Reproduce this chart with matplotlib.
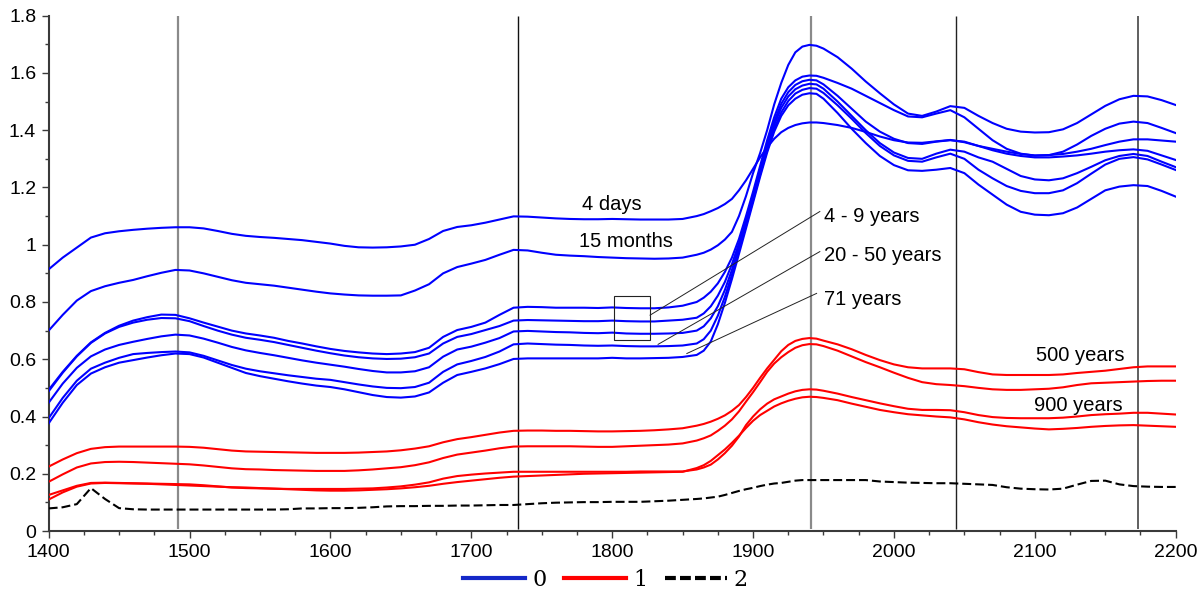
import matplotlib
matplotlib.use("Agg")
import matplotlib.pyplot as plt
from matplotlib.lines import Line2D
from matplotlib.patches import Rectangle
from matplotlib.ticker import MultipleLocator, FuncFormatter

plt.rcParams['font.family'] = ['Liberation Sans', 'DejaVu Sans']

# sample years: 10-year steps, 5-year steps across the steep rise
YEARS = list(range(1400, 1860, 10)) + list(range(1860, 1950, 5)) + list(range(1950, 2201, 10))

# group 0 (blue)
days_4 = [0.914, 0.955, 0.99, 1.025, 1.04, 1.047, 1.052, 1.056, 1.059, 1.061,
          1.061, 1.057, 1.048, 1.038, 1.031, 1.027, 1.024, 1.02, 1.016, 1.01,
          1.004, 0.996, 0.991, 0.99, 0.991, 0.994, 1.0, 1.02, 1.048, 1.062,
          1.068, 1.077, 1.088, 1.099, 1.098, 1.095, 1.092, 1.09, 1.089, 1.089,
          1.09, 1.089, 1.088, 1.088, 1.088, 1.09,
          1.10, 1.107, 1.117, 1.128, 1.142, 1.16, 1.19, 1.225, 1.265, 1.305, 1.34, 1.37,
          1.393, 1.408, 1.418, 1.424, 1.427, 1.427,
          1.425, 1.418, 1.408, 1.394, 1.378, 1.365, 1.357, 1.356, 1.361, 1.366,
          1.358, 1.345, 1.335, 1.325, 1.317, 1.312, 1.313, 1.317, 1.325, 1.335,
          1.348, 1.36, 1.368, 1.368, 1.364, 1.36]
months_15 = [0.70, 0.755, 0.805, 0.838, 0.855, 0.867, 0.877, 0.89, 0.902, 0.912,
             0.91, 0.9, 0.888, 0.876, 0.867, 0.862, 0.857, 0.85, 0.843, 0.836,
             0.83, 0.826, 0.823, 0.822, 0.822, 0.823, 0.84, 0.862, 0.9, 0.922,
             0.934, 0.947, 0.965, 0.982, 0.98, 0.972, 0.965, 0.962, 0.96, 0.957,
             0.955, 0.953, 0.952, 0.951, 0.952, 0.955,
             0.965, 0.972, 0.983, 0.998, 1.018, 1.045, 1.10, 1.17, 1.25, 1.32, 1.40, 1.49,
             1.565, 1.628, 1.672, 1.692, 1.698, 1.695,
             1.685, 1.655, 1.615, 1.57, 1.529, 1.49, 1.458, 1.45, 1.465, 1.484,
             1.478, 1.45, 1.425, 1.405, 1.395, 1.392, 1.393, 1.403, 1.425, 1.455,
             1.485, 1.508, 1.52, 1.518, 1.505, 1.488]
blue_3 = [0.493, 0.556, 0.612, 0.659, 0.692, 0.717, 0.735, 0.747, 0.756, 0.755,
          0.743, 0.728, 0.714, 0.70, 0.69, 0.683, 0.675, 0.664, 0.655, 0.645,
          0.636, 0.629, 0.624, 0.62, 0.618, 0.62, 0.625, 0.64, 0.678, 0.702,
          0.713, 0.728, 0.755, 0.78, 0.783, 0.782, 0.78, 0.78, 0.78, 0.779,
          0.781, 0.779, 0.778, 0.778, 0.781, 0.787,
          0.80, 0.815, 0.836, 0.865, 0.905, 0.955, 1.02, 1.10, 1.185, 1.275, 1.365, 1.445,
          1.51, 1.55, 1.574, 1.587, 1.591, 1.59,
          1.583, 1.565, 1.545, 1.52, 1.495, 1.47, 1.448, 1.445, 1.458, 1.47,
          1.445, 1.405, 1.365, 1.335, 1.318, 1.311, 1.313, 1.325, 1.35, 1.38,
          1.405, 1.423, 1.43, 1.425, 1.408, 1.39]
blue_4 = [0.488, 0.553, 0.61, 0.657, 0.69, 0.713, 0.728, 0.738, 0.744, 0.743,
          0.733, 0.716, 0.70, 0.686, 0.675, 0.668, 0.66, 0.65, 0.64, 0.63,
          0.621, 0.613, 0.607, 0.603, 0.601, 0.602, 0.607, 0.62, 0.655, 0.678,
          0.688, 0.702, 0.716, 0.735, 0.737, 0.736, 0.735, 0.734, 0.733, 0.733,
          0.735, 0.733, 0.732, 0.732, 0.735, 0.738,
          0.745, 0.76, 0.785, 0.822, 0.87, 0.932, 1.005, 1.088, 1.175, 1.265, 1.352, 1.43,
          1.492, 1.533, 1.558, 1.571, 1.576, 1.574,
          1.56, 1.52, 1.475, 1.43, 1.395, 1.37, 1.355, 1.352, 1.36, 1.365,
          1.36, 1.345, 1.33, 1.318, 1.31, 1.305, 1.305, 1.308, 1.312, 1.318,
          1.325, 1.33, 1.333, 1.328, 1.312, 1.296]
blue_5 = [0.448, 0.515, 0.57, 0.61, 0.634, 0.65, 0.661, 0.671, 0.68, 0.686,
          0.683, 0.672, 0.658, 0.643, 0.631, 0.622, 0.614, 0.605, 0.596, 0.588,
          0.581, 0.574, 0.566, 0.559, 0.554, 0.554, 0.558, 0.572, 0.609, 0.634,
          0.644, 0.658, 0.674, 0.697, 0.699, 0.697, 0.695, 0.694, 0.692, 0.691,
          0.693, 0.69, 0.689, 0.689, 0.69, 0.692,
          0.70, 0.715, 0.743, 0.785, 0.842, 0.912, 0.993, 1.078, 1.165, 1.255, 1.342, 1.418,
          1.478, 1.518, 1.543, 1.556, 1.562, 1.56,
          1.545, 1.50, 1.45, 1.40, 1.355, 1.322, 1.303, 1.30, 1.318, 1.332,
          1.325, 1.305, 1.29, 1.265, 1.24, 1.228, 1.225, 1.232, 1.25, 1.272,
          1.295, 1.31, 1.317, 1.31, 1.29, 1.271]
blue_6 = [0.394, 0.465, 0.525, 0.567, 0.588, 0.605, 0.618, 0.622, 0.625, 0.627,
          0.624, 0.612, 0.596, 0.58, 0.567, 0.558, 0.551, 0.544, 0.538, 0.532,
          0.528, 0.52, 0.512, 0.505, 0.50, 0.499, 0.503, 0.518, 0.556, 0.582,
          0.594, 0.608, 0.627, 0.652, 0.655, 0.653, 0.651, 0.65, 0.648, 0.647,
          0.648, 0.646, 0.645, 0.645, 0.646, 0.648,
          0.655, 0.67, 0.70, 0.752, 0.818, 0.895, 0.98, 1.067, 1.155, 1.245, 1.33, 1.405,
          1.462, 1.502, 1.528, 1.541, 1.547, 1.545,
          1.53, 1.487, 1.44, 1.39, 1.345, 1.312, 1.293, 1.29, 1.305, 1.318,
          1.30, 1.262, 1.232, 1.205, 1.188, 1.18, 1.18, 1.19, 1.215, 1.248,
          1.28, 1.30, 1.306, 1.298, 1.28, 1.261]
blue_7 = [0.376, 0.448, 0.51, 0.55, 0.572, 0.588, 0.597, 0.606, 0.614, 0.62,
          0.618, 0.606, 0.588, 0.57, 0.552, 0.541, 0.532, 0.523, 0.515, 0.508,
          0.503, 0.495, 0.485, 0.475, 0.468, 0.466, 0.47, 0.484, 0.518, 0.545,
          0.556, 0.568, 0.583, 0.601, 0.603, 0.603, 0.603, 0.603, 0.603, 0.603,
          0.605, 0.603, 0.603, 0.604, 0.605, 0.608,
          0.615, 0.63, 0.662, 0.722, 0.797, 0.88, 0.968, 1.057, 1.147, 1.237, 1.322, 1.395,
          1.45, 1.487, 1.51, 1.524, 1.529, 1.527,
          1.51, 1.46, 1.405, 1.355, 1.31, 1.278, 1.26, 1.258, 1.262, 1.268,
          1.25, 1.21, 1.175, 1.14, 1.115, 1.105, 1.103, 1.11, 1.13, 1.16,
          1.19, 1.203, 1.208, 1.205, 1.188, 1.168]

# group 1 (red)
years_500 = [0.225, 0.25, 0.272, 0.287, 0.293, 0.295, 0.295, 0.295, 0.295, 0.295,
             0.294, 0.291, 0.286, 0.281, 0.278, 0.277, 0.276, 0.275, 0.274, 0.273,
             0.273, 0.273, 0.274, 0.276, 0.278, 0.282, 0.288, 0.296, 0.31, 0.321,
             0.328, 0.336, 0.344, 0.35, 0.351, 0.351, 0.35, 0.35, 0.349, 0.348,
             0.348, 0.349, 0.35, 0.352, 0.355, 0.359,
             0.368, 0.374, 0.382, 0.392, 0.404, 0.42, 0.44, 0.468, 0.50, 0.535, 0.568, 0.598,
             0.628, 0.65, 0.664, 0.671, 0.674, 0.672,
             0.665, 0.652, 0.635, 0.615, 0.597, 0.582, 0.572, 0.568, 0.568, 0.568,
             0.565, 0.555, 0.547, 0.545, 0.545, 0.545, 0.545, 0.547, 0.552, 0.556,
             0.56, 0.566, 0.572, 0.575, 0.575, 0.575]
red_2 = [0.172, 0.198, 0.222, 0.236, 0.241, 0.242, 0.241, 0.239, 0.237, 0.235,
         0.233, 0.229, 0.224, 0.219, 0.216, 0.215, 0.213, 0.212, 0.211, 0.21,
         0.21, 0.21, 0.212, 0.215, 0.219, 0.223, 0.23, 0.24, 0.255, 0.267,
         0.274, 0.281, 0.289, 0.295, 0.296, 0.296, 0.296, 0.296, 0.295, 0.294,
         0.294, 0.296, 0.298, 0.30, 0.302, 0.306,
         0.316, 0.324, 0.334, 0.35, 0.368, 0.39, 0.418, 0.452, 0.485, 0.52, 0.556, 0.585,
         0.607, 0.625, 0.64, 0.649, 0.653, 0.652,
         0.646, 0.63, 0.61, 0.59, 0.572, 0.553, 0.535, 0.52, 0.513, 0.51,
         0.506, 0.50, 0.495, 0.493, 0.493, 0.495, 0.497, 0.502, 0.51, 0.516,
         0.518, 0.52, 0.522, 0.524, 0.525, 0.525]
years_900 = [0.126, 0.142, 0.158, 0.168, 0.169, 0.168, 0.167, 0.166, 0.165, 0.164,
             0.163, 0.16, 0.156, 0.152, 0.15, 0.149, 0.148, 0.147, 0.147, 0.147,
             0.147, 0.147, 0.148, 0.149, 0.152, 0.156, 0.162, 0.17, 0.183, 0.192,
             0.197, 0.201, 0.204, 0.207, 0.207, 0.207, 0.207, 0.207, 0.207, 0.207,
             0.207, 0.207, 0.208, 0.208, 0.208, 0.208,
             0.215, 0.222, 0.232, 0.25, 0.272, 0.298, 0.33, 0.37, 0.40, 0.425, 0.445, 0.46,
             0.47, 0.48, 0.488, 0.493, 0.495, 0.494,
             0.49, 0.48, 0.468, 0.457, 0.446, 0.436, 0.427, 0.423, 0.423, 0.422,
             0.415, 0.405, 0.398, 0.395, 0.394, 0.394, 0.394, 0.396, 0.40, 0.405,
             0.408, 0.41, 0.413, 0.413, 0.41, 0.407]
red_4 = [0.11, 0.135, 0.155, 0.166, 0.168, 0.167, 0.166, 0.165, 0.163, 0.161,
         0.159, 0.157, 0.155, 0.153, 0.152, 0.15, 0.148, 0.146, 0.144, 0.142,
         0.141, 0.141, 0.142, 0.144, 0.146, 0.149, 0.153, 0.158, 0.165, 0.171,
         0.176, 0.181, 0.186, 0.19, 0.192, 0.194, 0.196, 0.198, 0.20, 0.201,
         0.202, 0.203, 0.204, 0.205, 0.206, 0.207,
         0.22, 0.23, 0.245, 0.265, 0.285, 0.308, 0.333, 0.36, 0.385, 0.405, 0.42, 0.435,
         0.446, 0.455, 0.462, 0.467, 0.469, 0.468,
         0.465, 0.457, 0.445, 0.434, 0.423, 0.415, 0.408, 0.404, 0.40, 0.397,
         0.39, 0.38, 0.372, 0.366, 0.362, 0.358, 0.355, 0.357, 0.36, 0.364,
         0.367, 0.369, 0.37, 0.368, 0.366, 0.364]

# group 2 (black dashed)
group_2 = [0.079, 0.083, 0.094, 0.15, 0.112, 0.08, 0.076, 0.075, 0.075, 0.075,
           0.075, 0.075, 0.075, 0.075, 0.075, 0.075, 0.075, 0.076, 0.079, 0.079,
           0.08, 0.08, 0.081, 0.083, 0.086, 0.087, 0.087, 0.088, 0.088, 0.089,
           0.089, 0.09, 0.091, 0.091, 0.094, 0.097, 0.099, 0.10, 0.101, 0.101,
           0.102, 0.102, 0.102, 0.104, 0.106, 0.109,
           0.112, 0.114, 0.117, 0.12, 0.126, 0.133, 0.14, 0.146, 0.151, 0.157, 0.162, 0.166,
           0.168, 0.172, 0.176, 0.178, 0.178, 0.178,
           0.178, 0.178, 0.178, 0.178, 0.173, 0.171, 0.169, 0.168, 0.167, 0.167,
           0.165, 0.163, 0.161, 0.153, 0.148, 0.146, 0.145, 0.148, 0.162, 0.175,
           0.176, 0.163, 0.157, 0.155, 0.154, 0.154]

BLUE_SERIES = [days_4, months_15, blue_3, blue_4, blue_5, blue_6, blue_7]
RED_SERIES = [years_500, red_2, years_900, red_4]
MARKER_YEARS = [1492, 1733, 1941, 2044, 2173]
MARKER_COLORS = ['#8a8a8a', '#111111', '#8a8a8a', '#222222', '#444444']
MARKER_WIDTHS = [1.6, 1.0, 1.6, 1.0, 1.2]
LEGEND_LABELS = ['0', '1', '2']

fig = plt.figure(figsize=(12.04, 5.96), dpi=100)
ax = fig.add_axes([0.0404, 0.109, 0.9361, 0.8647])

for yr, col, w in zip(MARKER_YEARS, MARKER_COLORS, MARKER_WIDTHS):
    ax.vlines(yr, 0.008, 1.8, colors=col, lw=w, zorder=1)

for s in BLUE_SERIES:
    ax.plot(YEARS, s, color='#0000ff', lw=1.5, zorder=3)
for s in RED_SERIES:
    ax.plot(YEARS, s, color='#ff0000', lw=1.5, zorder=3)
ax.plot(YEARS, group_2, color='black', lw=1.5, dashes=(4.3, 1.9), zorder=3)

# callouts
tfs = 14.5
ax.text(1799.6, 1.139, '4 days', ha='center', va='center', fontsize=tfs)
ax.text(1810, 1.01, '15 months', ha='center', va='center', fontsize=tfs)
ax.text(1950.5, 1.098, '4 - 9 years', ha='left', va='center', fontsize=tfs)
ax.text(1950.5, 0.962, '20 - 50 years', ha='left', va='center', fontsize=tfs)
ax.text(1950.5, 0.807, '71 years', ha='left', va='center', fontsize=tfs)
ax.text(2100.7, 0.612, '500 years', ha='left', va='center', fontsize=tfs)
ax.text(2099.5, 0.44, '900 years', ha='left', va='center', fontsize=tfs)

ax.add_patch(Rectangle((1801.4, 0.667), 25.3, 0.155, fill=False,
                       edgecolor='#222222', lw=0.8, zorder=4))
ax.plot([1826.9, 1947.4], [0.754, 1.116], color='#222222', lw=0.7, zorder=4)
ax.plot([1832.6, 1947.4], [0.652, 0.976], color='#222222', lw=0.7, zorder=4)
ax.plot([1853.0, 1945.1], [0.62, 0.83], color='#222222', lw=0.7, zorder=4)

ax.set_xlim(1400, 2200)
ax.set_ylim(0, 1.8)
ax.xaxis.set_major_locator(MultipleLocator(100))
ax.xaxis.set_minor_locator(MultipleLocator(25))
ax.yaxis.set_major_locator(MultipleLocator(0.2))
ax.yaxis.set_minor_locator(MultipleLocator(0.1))
ax.yaxis.set_major_formatter(FuncFormatter(lambda v, p: f'{v:g}'))
for side in ('top', 'right'):
    ax.spines[side].set_visible(False)
for side in ('left', 'bottom'):
    ax.spines[side].set_color('#3a3a3a')
    ax.spines[side].set_linewidth(1.5)
ax.tick_params(which='major', direction='out', length=5, width=1, color='#3a3a3a',
               labelsize=14, pad=4)
ax.tick_params(which='minor', direction='out', length=3, width=1, color='#3a3a3a')

handles = [Line2D([], [], color='#1428c8', lw=3),
           Line2D([], [], color='#ff0000', lw=3),
           Line2D([], [], color='black', lw=3, dashes=(2.6, 1.0))]
fig.legend(handles, LEGEND_LABELS, loc='center', bbox_to_anchor=(0.503, 0.027),
           ncol=3, frameon=False, handlelength=2.8, handletextpad=0.3,
           columnspacing=0.8, prop={'family': 'DejaVu Serif', 'size': 16})

fig.savefig('out.png', dpi=100)
